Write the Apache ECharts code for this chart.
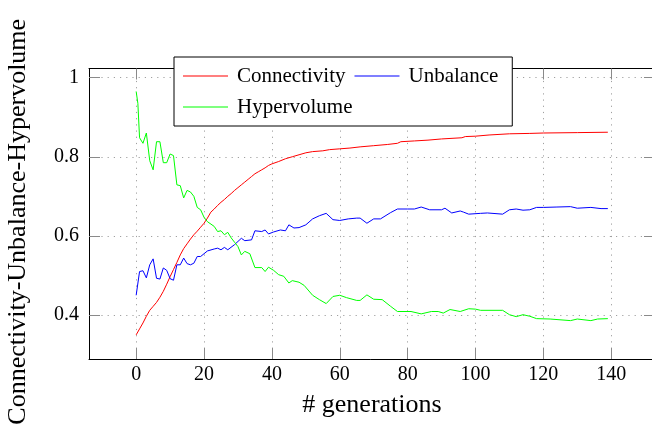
<!DOCTYPE html>
<html>
<head>
<meta charset="utf-8">
<script src="https://cdn.jsdelivr.net/npm/echarts@6/dist/echarts.min.js"></script>
<style>
html,body{margin:0;padding:0;background:#fff;}
#chart{width:652px;height:430px;}
</style>
</head>
<body>
<div id="chart"></div>
<script>
const seriesNames = ['Connectivity', 'Unbalance', 'Hypervolume'];
const xTicks = [0, 20, 40, 60, 80, 100, 120, 140];
const yTicks = [0.4, 0.6, 0.8, 1];

const connectivity = [[0,0.350],[1,0.365],[2,0.380],[3,0.397],[4,0.412],[5,0.422],[6,0.432],[7,0.445],[8,0.460],[9,0.478],[10,0.497],[11,0.515],[12,0.533],[13,0.552],[14,0.568],[15,0.580],[16,0.592],[17,0.603],[18,0.612],[19,0.622],[20,0.632],[21,0.645],[22,0.660],[23,0.668],[24,0.677],[25,0.685],[26,0.692],[27,0.700],[28,0.707],[29,0.715],[30,0.722],[31,0.729],[32,0.736],[33,0.743],[34,0.750],[35,0.757],[36,0.762],[37,0.767],[38,0.772],[39,0.778],[40,0.782],[42,0.788],[44,0.795],[46,0.800],[48,0.805],[50,0.810],[52,0.813],[55,0.815],[57,0.818],[60,0.820],[63,0.822],[66,0.825],[70,0.828],[74,0.831],[77,0.834],[78,0.838],[82,0.840],[86,0.842],[90,0.845],[96,0.848],[97,0.851],[100,0.852],[104,0.855],[110,0.858],[116,0.859],[120,0.860],[130,0.861],[139,0.862]];

const unbalance = [[0,0.450],[1,0.510],[2,0.512],[3,0.494],[4,0.527],[5,0.542],[6,0.493],[7,0.491],[8,0.519],[9,0.513],[10,0.492],[11,0.488],[12,0.527],[13,0.527],[14,0.544],[15,0.530],[16,0.527],[17,0.531],[18,0.548],[19,0.548],[21,0.562],[23,0.567],[24,0.569],[25,0.565],[26,0.571],[27,0.565],[29,0.578],[31,0.594],[32,0.588],[34,0.590],[35,0.613],[37,0.611],[38,0.615],[39,0.605],[40.5,0.610],[42.5,0.615],[44,0.613],[45,0.628],[46.5,0.620],[48,0.621],[50,0.628],[52,0.643],[54,0.651],[56,0.657],[58,0.641],[60,0.639],[62.5,0.643],[65,0.645],[66,0.645],[68,0.632],[70,0.643],[72,0.643],[75,0.659],[77,0.668],[80,0.668],[82,0.668],[84,0.673],[86.5,0.666],[90,0.666],[91,0.670],[93,0.658],[95.5,0.663],[96.5,0.660],[98,0.655],[101.5,0.657],[103.5,0.658],[108,0.655],[110,0.666],[112,0.668],[114,0.665],[116,0.666],[118,0.672],[120,0.672],[124,0.673],[128,0.674],[130,0.670],[134,0.672],[137,0.669],[139,0.669]];

const hypervolume = [[0,0.965],[0.5,0.935],[1,0.848],[2,0.834],[3,0.860],[4,0.790],[5,0.767],[6,0.838],[7,0.838],[8,0.785],[9,0.785],[10,0.807],[11,0.803],[12,0.729],[13,0.727],[14,0.696],[15,0.715],[16,0.711],[17,0.700],[18,0.672],[19,0.666],[20,0.647],[21,0.636],[23,0.624],[24,0.611],[25,0.613],[26,0.603],[27,0.609],[28,0.595],[29,0.584],[30,0.573],[31,0.552],[32,0.561],[33.5,0.555],[35,0.520],[37,0.520],[38,0.510],[39,0.521],[40.5,0.513],[42,0.502],[43.5,0.498],[45,0.481],[46,0.487],[48,0.483],[49.5,0.475],[52,0.450],[54,0.439],[56,0.429],[58,0.447],[60,0.450],[62,0.444],[65,0.437],[66,0.437],[68,0.451],[70,0.440],[72.5,0.439],[75,0.422],[77,0.409],[81,0.409],[84,0.403],[87,0.409],[89,0.409],[90.5,0.405],[92.5,0.414],[95.5,0.409],[98,0.416],[100,0.415],[101.5,0.412],[108,0.412],[110,0.401],[112,0.396],[114,0.401],[116,0.397],[118,0.391],[122,0.390],[128,0.386],[130,0.390],[134,0.386],[136,0.390],[139,0.391]];

const seriesData = [connectivity, unbalance, hypervolume];
const seriesColors = ['#ff0000', '#0000ff', '#00ff00'];

const FONT = '"Liberation Serif", "Times New Roman", serif';
const X_MIN = -13.9, X_MAX = 152.9, Y_MIN = 0.289, Y_MAX = 1.023;

const tickStyle = { show: true, inside: true, length: 11, lineStyle: { color: '#8a8a8a', width: 1 } };
const gridLine = { show: true, lineStyle: { color: '#a0a0a0', width: 1, type: [1.2, 5] } };
const frameLine = { show: true, onZero: false, lineStyle: { color: '#000', width: 1 } };
const legendText = { fontFamily: FONT, fontSize: 21, color: '#000', padding: [0, 0, 0, 4] };
const legendIcon = 'path://M0,0 L45,0 L45,1 L0,1 Z';

const chart = echarts.init(document.getElementById('chart'), null, { renderer: 'canvas' });
chart.setOption({
  animation: false,
  backgroundColor: '#ffffff',
  grid: { left: 89, top: 68.5, width: 566, height: 290.5, containLabel: false, outerBoundsMode: 'none' },
  legend: [{
    data: [seriesNames[0], seriesNames[1]],
    left: 174, top: 57,
    orient: 'horizontal',
    padding: [8.5, 14, 39.5, 9],
    itemGap: 9,
    itemWidth: 45,
    itemHeight: 1,
    icon: legendIcon,
    backgroundColor: '#ffffff',
    borderColor: '#000000',
    borderWidth: 1,
    borderRadius: 0,
    z: 10,
    textStyle: legendText
  }, {
    data: [seriesNames[2]],
    left: 174, top: 96.5,
    orient: 'horizontal',
    padding: [0, 0, 0, 9],
    itemWidth: 45,
    itemHeight: 1,
    icon: legendIcon,
    backgroundColor: 'transparent',
    borderWidth: 0,
    z: 11,
    textStyle: legendText
  }],
  xAxis: [{
    type: 'value', min: X_MIN, max: X_MAX, position: 'bottom',
    name: '# generations', nameLocation: 'middle', nameGap: 33,
    nameTextStyle: { fontFamily: FONT, fontSize: 26, color: '#000' },
    axisLine: frameLine,
    axisTick: Object.assign({ customValues: xTicks }, tickStyle),
    axisLabel: { customValues: xTicks, fontFamily: FONT, fontSize: 20, color: '#000', margin: 6 },
    splitLine: gridLine
  }, {
    type: 'value', min: X_MIN, max: X_MAX, position: 'top',
    axisLine: frameLine,
    axisTick: Object.assign({ customValues: xTicks }, tickStyle),
    axisLabel: { show: false, customValues: xTicks },
    splitLine: { show: false }
  }],
  yAxis: [{
    type: 'value', min: Y_MIN, max: Y_MAX, position: 'left',
    name: 'Connectivity-Unbalance-Hypervolume', nameLocation: 'middle', nameGap: 58, nameRotate: 90,
    nameTextStyle: { fontFamily: FONT, fontSize: 26, color: '#000', padding: [0, 16, 0, 0] },
    axisLine: frameLine,
    axisTick: Object.assign({ customValues: yTicks }, tickStyle),
    axisLabel: { customValues: yTicks, fontFamily: FONT, fontSize: 20, color: '#000', margin: 10,
      formatter: v => String(Math.round(v * 10) / 10) },
    splitLine: gridLine
  }, {
    type: 'value', min: Y_MIN, max: Y_MAX, position: 'right',
    axisLine: frameLine,
    axisTick: Object.assign({ customValues: yTicks }, tickStyle),
    axisLabel: { show: false, customValues: yTicks },
    splitLine: { show: false }
  }],
  series: seriesNames.map((name, i) => ({
    name: name,
    type: 'line',
    data: seriesData[i],
    xAxisIndex: 0, yAxisIndex: 0,
    showSymbol: false,
    symbol: 'none',
    lineStyle: { color: seriesColors[i], width: 1 },
    itemStyle: { color: seriesColors[i] },
    emphasis: { disabled: true }
  }))
});
</script>
</body>
</html>
